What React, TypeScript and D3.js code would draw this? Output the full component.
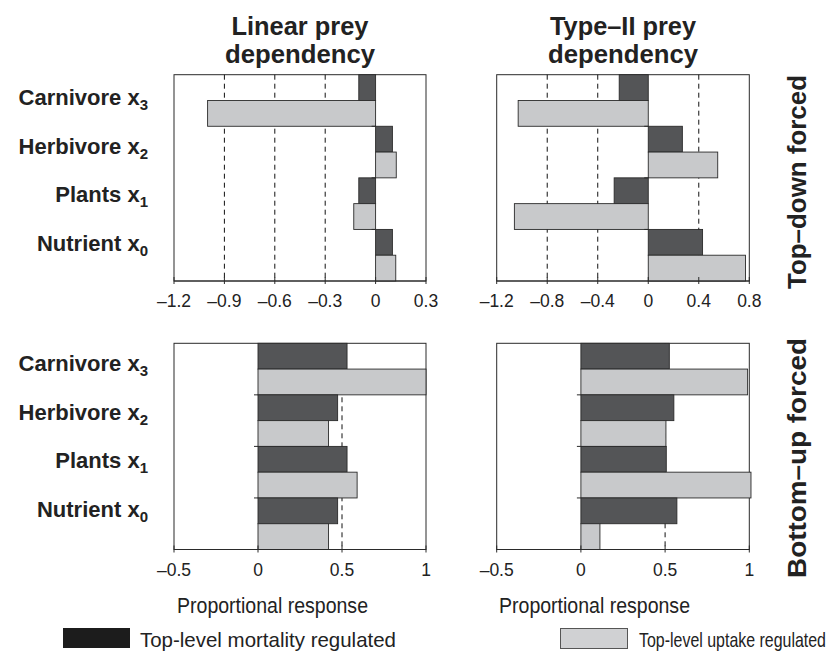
import React from "react";
import * as d3 from "d3";

const categories = ["Carnivore", "Herbivore", "Plants", "Nutrient"];
const subscripts = ["3", "2", "1", "0"];
const seriesKeys = ["mortality", "uptake"];
const legendLabels = ["Top-level mortality regulated", "Top-level uptake regulated"];

const linearTopDownMortality = [-0.1, 0.1, -0.1, 0.1];
const linearTopDownUptake = [-1.0, 0.123, -0.13, 0.12];
const typeIITopDownMortality = [-0.23, 0.27, -0.27, 0.43];
const typeIITopDownUptake = [-1.03, 0.55, -1.06, 0.77];
const linearBottomUpMortality = [0.53, 0.474, 0.53, 0.474];
const linearBottomUpUptake = [1.0, 0.42, 0.59, 0.42];
const typeIIBottomUpMortality = [0.525, 0.552, 0.507, 0.57];
const typeIIBottomUpUptake = [0.99, 0.505, 1.01, 0.113];

const linearTopTicks = [-1.2, -0.9, -0.6, -0.3, 0, 0.3];
const typeIITopTicks = [-1.2, -0.8, -0.4, 0, 0.4, 0.8];
const bottomTicks = [-0.5, 0, 0.5, 1];
const linearTopGrid = [-0.9, -0.6, -0.3];
const typeIITopGrid = [-0.8, -0.4, 0.4];
const bottomGrid = [0.5];

const FONT = "'Liberation Sans', Arial, Helvetica, sans-serif";
const DARK = "#545557";
const LIGHT = "#c8c9cb";
const STROKE = "#2a2a2a";
const TEXT = "#222";

const fmt = (v: number) => {
  if (v === 0) return "0";
  const s = Math.abs(v).toString();
  return (v < 0 ? "\u2013" : "") + s;
};

type PanelProps = {
  x0: number; x1: number; y0: number; y1: number;
  domain: [number, number];
  ticks: number[];
  grid: number[];
  mortality: number[];
  uptake: number[];
};

function Panel({ x0, x1, y0, y1, domain, ticks, grid, mortality, uptake }: PanelProps) {
  const x = d3.scaleLinear().domain(domain).range([x0, x1]);
  const y = d3.scaleBand().domain(categories).range([y0, y1]).padding(0);
  const inner = d3.scaleBand().domain(seriesKeys).range([0, y.bandwidth()]).padding(0);
  const series = [mortality, uptake];
  const fills = [DARK, LIGHT];
  const zero = x(0);
  return (
    <g>
      <rect x={x0} y={y0} width={x1 - x0} height={y1 - y0} fill="#fff" stroke={STROKE} strokeWidth={1} />
      {grid.map((g) => (
        <line key={g} x1={x(g)} x2={x(g)} y1={y0} y2={y1} stroke="#111" strokeWidth={1} strokeDasharray="5,4" />
      ))}
      {categories.map((c, i) =>
        seriesKeys.map((k, j) => {
          const v = series[j][i];
          const xa = Math.min(x(0), x(v));
          const w = Math.abs(x(v) - x(0));
          return (
            <rect key={c + k} x={xa} y={(y(c) as number) + (inner(k) as number)} width={w} height={inner.bandwidth()}
              fill={fills[j]} stroke={STROKE} strokeWidth={0.9} />
          );
        })
      )}
      {categories.slice(1).map((c) => (
        <line key={"yt" + c} x1={zero - 4} x2={zero} y1={y(c)} y2={y(c)} stroke={STROKE} strokeWidth={1} />
      ))}
      <line x1={x0} x2={x1} y1={y1} y2={y1} stroke={STROKE} strokeWidth={1.2} />
      {ticks.map((t) => (
        <g key={t}>
          <line x1={x(t)} x2={x(t)} y1={y1 - 4} y2={y1 + 3} stroke={STROKE} strokeWidth={1} />
          <text x={x(t)} y={y1 + 26} textAnchor="middle" fontFamily={FONT} fontSize={17.5} fill={TEXT}>
            {fmt(t)}
          </text>
        </g>
      ))}
    </g>
  );
}

function Labels({ yTop }: { yTop: number }) {
  const ly = d3.scalePoint().domain(categories).range([yTop, yTop + 145.5]);
  return (
    <g>
      {categories.map((c, i) => (
        <text key={c} x={148} y={ly(c)} textAnchor="end" fontFamily={FONT} fontWeight="bold" fontSize={22} fill={TEXT}>
          {c + " x"}
          <tspan fontSize={15} dy={5}>{subscripts[i]}</tspan>
        </text>
      ))}
    </g>
  );
}

export default function App() {
  const L = [174, 426];
  const R = [496.7, 749.3];
  const T = [74.7, 281];
  const B = [343.3, 549.5];
  const titleProps = { textAnchor: "middle" as const, fontFamily: FONT, fontWeight: "bold", fontSize: 25, fill: TEXT };
  const sideProps = { textAnchor: "middle" as const, fontFamily: FONT, fontWeight: "bold", fontSize: 26, fill: TEXT };
  return (
    <svg width={828} height={654} style={{ position: "absolute", left: 0, top: 0, background: "#fff" }}>
      <text x={300} y={35} {...titleProps} textLength={137} lengthAdjust="spacingAndGlyphs">Linear prey</text>
      <text x={300} y={63} {...titleProps} textLength={150} lengthAdjust="spacingAndGlyphs">dependency</text>
      <text x={623} y={35} {...titleProps} textLength={146} lengthAdjust="spacingAndGlyphs">Type–II prey</text>
      <text x={623} y={63} {...titleProps} textLength={150} lengthAdjust="spacingAndGlyphs">dependency</text>

      <Labels yTop={105} />
      <Labels yTop={371} />

      <Panel x0={L[0]} x1={L[1]} y0={T[0]} y1={T[1]} domain={[-1.2, 0.3]} ticks={linearTopTicks} grid={linearTopGrid}
        mortality={linearTopDownMortality} uptake={linearTopDownUptake} />
      <Panel x0={R[0]} x1={R[1]} y0={T[0]} y1={T[1]} domain={[-1.2, 0.8]} ticks={typeIITopTicks} grid={typeIITopGrid}
        mortality={typeIITopDownMortality} uptake={typeIITopDownUptake} />
      <Panel x0={L[0]} x1={L[1]} y0={B[0]} y1={B[1]} domain={[-0.5, 1]} ticks={bottomTicks} grid={bottomGrid}
        mortality={linearBottomUpMortality} uptake={linearBottomUpUptake} />
      <Panel x0={R[0]} x1={R[1]} y0={B[0]} y1={B[1]} domain={[-0.5, 1]} ticks={bottomTicks} grid={bottomGrid}
        mortality={typeIIBottomUpMortality} uptake={typeIIBottomUpUptake} />

      <text transform="translate(806,182) rotate(-90)" {...sideProps} textLength={214} lengthAdjust="spacingAndGlyphs">Top–down forced</text>
      <text transform="translate(806,458) rotate(-90)" {...sideProps} textLength={240} lengthAdjust="spacingAndGlyphs">Bottom–up forced</text>

      <text x={272.5} y={613} textAnchor="middle" fontFamily={FONT} fontSize={22} fill={TEXT} textLength={191} lengthAdjust="spacingAndGlyphs">Proportional response</text>
      <text x={594.5} y={613} textAnchor="middle" fontFamily={FONT} fontSize={22} fill={TEXT} textLength={191} lengthAdjust="spacingAndGlyphs">Proportional response</text>

      <rect x={63} y={628} width={67} height={20} fill="#1c1c1c" />
      <text x={140} y={647} fontFamily={FONT} fontSize={21} fill={TEXT} textLength={256} lengthAdjust="spacingAndGlyphs">{legendLabels[0]}</text>
      <rect x={560.5} y={628.5} width={67} height={20} fill="#d0d1d3" stroke="#555" strokeWidth={1} />
      <text x={639} y={647} fontFamily={FONT} fontSize={21} fill={TEXT} textLength={187} lengthAdjust="spacingAndGlyphs">{legendLabels[1]}</text>
    </svg>
  );
}
